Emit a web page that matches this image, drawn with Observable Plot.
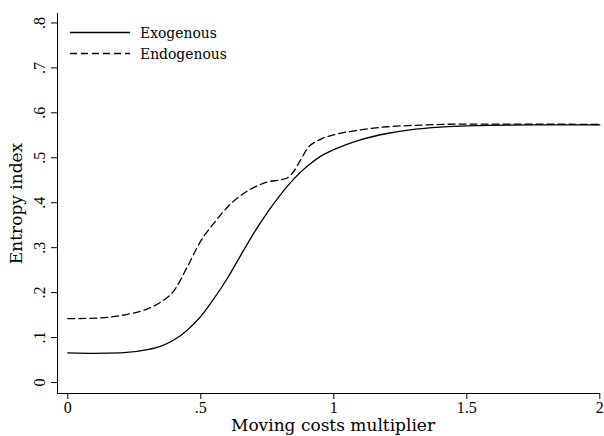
<!DOCTYPE html>
<html><head><meta charset="utf-8">
<script src="https://cdn.jsdelivr.net/npm/d3@7"></script>
<script src="https://cdn.jsdelivr.net/npm/@observablehq/plot@0.6"></script>
<style>
body{margin:0;background:#fff;}
#wrap{position:relative;width:604px;height:436px;}
#legend{position:absolute;left:0;top:0;}
</style></head><body><div id="wrap"></div>
<script>
// Data
const exoX = [0,0.1,0.2,0.3,0.35,0.4,0.45,0.5,0.55,0.6,0.65,0.7,0.75,0.8,0.85,0.9,0.95,1.0,1.1,1.2,1.3,1.4,1.5,1.75,2.0];
const exogenous = [0.066,0.065,0.066,0.073,0.081,0.095,0.117,0.147,0.187,0.232,0.283,0.333,0.378,0.418,0.453,0.481,0.503,0.518,0.54,0.554,0.563,0.568,0.571,0.573,0.573];
const endoX = [0,0.1,0.2,0.25,0.3,0.35,0.4,0.45,0.5,0.55,0.6,0.65,0.7,0.75,0.8,0.825,0.85,0.875,0.9,0.95,1.0,1.1,1.2,1.3,1.5,1.75,2.0];
const endogenous = [0.142,0.143,0.149,0.155,0.164,0.179,0.205,0.258,0.315,0.355,0.39,0.416,0.434,0.446,0.451,0.455,0.47,0.495,0.52,0.541,0.551,0.562,0.569,0.572,0.575,0.575,0.574];
const seriesNames = ["Exogenous","Endogenous"];
const xTicks = [0,0.5,1,1.5,2];
const yTicks = [0,0.1,0.2,0.3,0.4,0.5,0.6,0.7,0.8];
const xTitle = "Moving costs multiplier";
const yTitle = "Entropy index";

const rows = [
  ...exoX.map((x,i)=>({x, y: exogenous[i], s: seriesNames[0]})),
  ...endoX.map((x,i)=>({x, y: endogenous[i], s: seriesNames[1]}))
];
const fmt = d => d === 0 ? "0" : String(+d.toFixed(2)).replace(/^0\./, ".");
const xDom = [-0.0387, 2.0026];
const yDom = [-0.0245, 0.821];
const font = "DejaVu Serif";
const tickFont = "Liberation Serif";

const chart = Plot.plot({
  width: 604, height: 436,
  marginLeft: 57, marginRight: 4, marginTop: 13, marginBottom: 43,
  style: {fontFamily: font, fontSize: "16px", color: "#000", background: "#fff"},
  x: {domain: xDom},
  y: {domain: yDom},
  marks: [
    Plot.ruleX([xDom[0]], {stroke: "#000", strokeWidth: 1}),
    Plot.ruleY([yDom[0]], {stroke: "#000", strokeWidth: 1}),
    Plot.axisX({ticks: xTicks, tickFormat: fmt, tickSize: 6, tickPadding: 2, fontSize: 16, fontFamily: tickFont,
      label: xTitle, labelAnchor: "center", labelOffset: 37, labelArrow: "none"}),
    Plot.axisY({ticks: yTicks, tickFormat: fmt, tickSize: 6, tickPadding: 7, tickRotate: -90, fontSize: 16, fontFamily: tickFont,
      label: yTitle, labelAnchor: "center", labelOffset: 48, labelArrow: "none"}),
    Plot.line(rows.filter(d=>d.s===seriesNames[0]), {x: "x", y: "y", stroke: "#000", strokeWidth: 1.3, curve: "monotone-x"}),
    Plot.line(rows.filter(d=>d.s===seriesNames[1]), {x: "x", y: "y", stroke: "#000", strokeWidth: 1.3, strokeDasharray: "7,4", curve: "monotone-x"})
  ]
});
chart.querySelectorAll("[aria-label='x-axis label'], [aria-label='y-axis label']").forEach(g=>{
  g.setAttribute("font-family", font); g.setAttribute("font-size","17");
  g.querySelectorAll("text").forEach(t=>{t.setAttribute("font-size","17"); t.setAttribute("font-family", font);});
});
chart.querySelectorAll("[aria-label='x-axis label'] text").forEach(t=>t.setAttribute("dx","4"));
document.getElementById("wrap").appendChild(chart);

// Legend (inside plot area, top-left)
const ns = "http://www.w3.org/2000/svg";
const lg = document.createElementNS(ns, "svg");
lg.setAttribute("id","legend"); lg.setAttribute("width","240"); lg.setAttribute("height","70");
seriesNames.forEach((n,i)=>{
  const yy = 32.5 + i*21;
  const ln = document.createElementNS(ns,"line");
  ln.setAttribute("x1","70"); ln.setAttribute("x2","130");
  ln.setAttribute("y1",yy); ln.setAttribute("y2",yy);
  ln.setAttribute("stroke","#000"); ln.setAttribute("stroke-width","1.3");
  if (i) ln.setAttribute("stroke-dasharray","7,4");
  lg.appendChild(ln);
  const tx = document.createElementNS(ns,"text");
  tx.setAttribute("x","140"); tx.setAttribute("y", yy + 5);
  tx.setAttribute("font-family", font); tx.setAttribute("font-size","13.9");
  tx.textContent = n;
  lg.appendChild(tx);
});
document.getElementById("wrap").appendChild(lg);
</script>
</body></html>
